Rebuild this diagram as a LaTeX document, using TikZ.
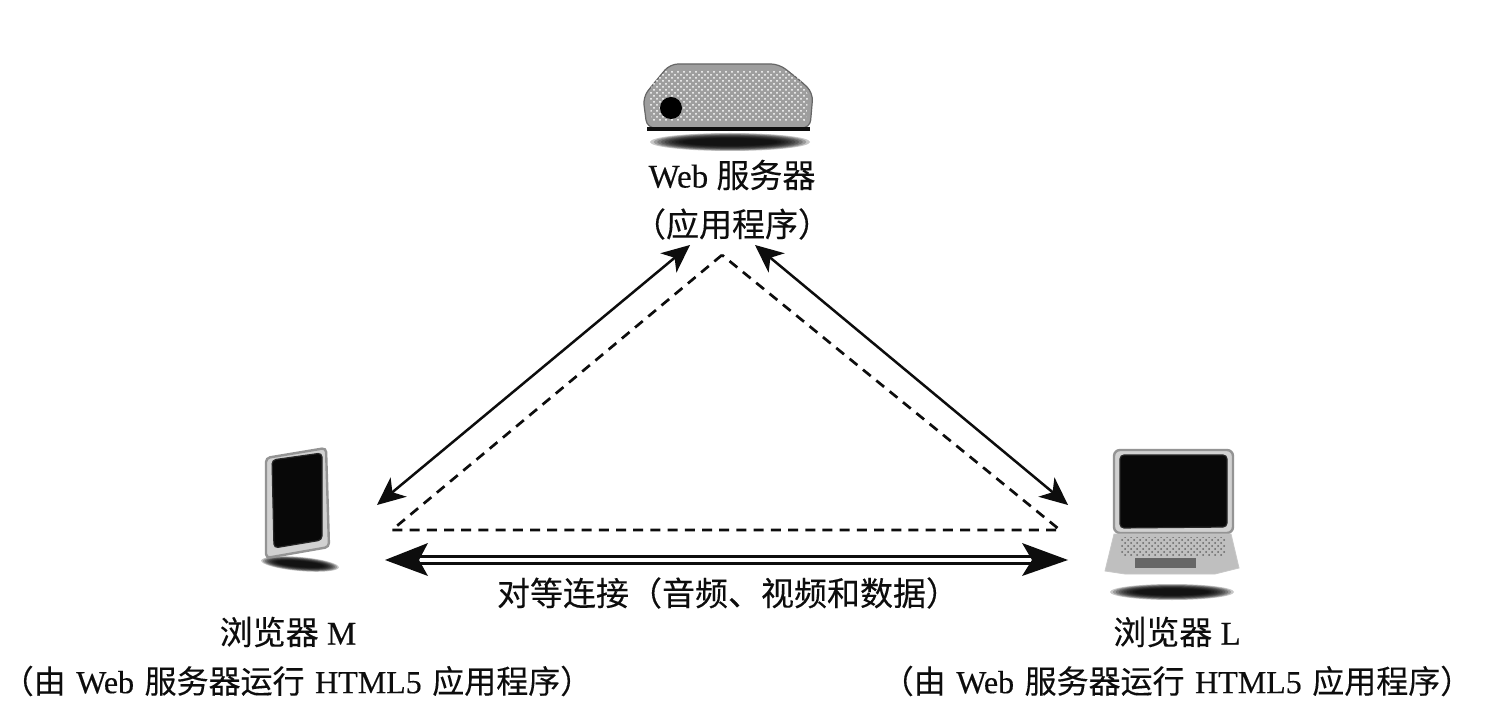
\documentclass[tikz,border=0pt]{standalone}
\usepackage{fontspec}
\setmainfont[FakeBold=0.3]{Liberation Serif}
\newfontfamily\cjk[FakeBold=0.2]{Noto Sans CJK SC}
\usetikzlibrary{arrows.meta,patterns}
\newcommand{\zh}[1]{{\cjk #1}}
\newcommand{\gapsp}{\hspace{1.25pt}}
\definecolor{ink}{gray}{0.05}
\newcommand{\softblob}[4]{% cx, cy, rx, ry
  \foreach \k in {10,...,1}{
    \fill[black,opacity=0.22] (#1,#2) ellipse [x radius={#3*(0.55+0.045*\k)},y radius={#4*(0.35+0.065*\k)}];
  }}
\tikzset{
  lbl/.style={font=\fontsize{16.5}{18}\selectfont,text=ink,inner sep=0pt,anchor=center},
  lblsmall/.style={lbl,font=\fontsize{16}{18}\selectfont},
  solidlink/.style={draw=ink,line width=1.25pt,{Stealth[length=14pt,width=12.5pt,inset=4pt]}-{Stealth[length=14pt,width=12.5pt,inset=4pt]}},
  dashlink/.style={draw=ink,line width=1.35pt,dash pattern=on 5pt off 3.6pt},
  p2plink/.style={draw=ink,line width=1.2pt,double=white,double distance=2.2pt,-,shorten <=12pt,shorten >=12pt},
  p2ptip/.style={ink,fill=ink},
  casegray/.style={fill=black!38,draw=black!60,line width=.6pt},
  screenblack/.style={fill=black!97,draw=black!85,line width=.6pt},
  rim/.style={fill=black!18,draw=black!42,line width=1.2pt},
}
\begin{document}
\begin{tikzpicture}[x=0.5pt,y=-0.5pt]
\useasboundingbox (0,0) rectangle (1486,726);
\fill[white] (0,0) rectangle (1486,726);

% server
\softblob{730}{142}{80}{9}
\draw[casegray,rounded corners=4pt] (670,64)--(779,64)--(802,82)--(813,93)--(810,128)--(647,128)--(643,97)--(655,82)--cycle;
\fill[pattern=crosshatch dots,pattern color=white] (655,70) -- (795,70) -- (808,95) -- (806,122) -- (652,122) -- (649,98) -- cycle;
\draw[ink,line width=1.6pt] (647,129)--(810,129);
\fill[black] (671,108) circle [radius=11];

% monitor M
\begin{scope}[rotate around={-5:(300,564)}]
\softblob{300}{564}{39}{7}
\end{scope}
\draw[rim,rounded corners=2pt] (266,458)--(326,448)--(329,547)--(266,558)--cycle;
\draw[screenblack,rounded corners=2pt] (272,460)--(322,453)--(322,540)--(274,548)--cycle;

% laptop L
\softblob{1172}{592}{62}{8}
\draw[rim,rounded corners=3pt] (1114,450)--(1233,450)--(1233,533)--(1114,533)--cycle;
\draw[screenblack,rounded corners=2pt] (1120,455)--(1227,455)--(1227,527)--(1120,528)--cycle;
\draw[fill=black!25,draw=black!22] (1114,534)--(1231,534)--(1239,568)--(1215,574)--(1125,574)--(1105,571)--cycle;
\fill[black!60] (1135,558) rectangle (1196,568);
\fill[pattern=crosshatch dots,pattern color=black!60] (1120,537) rectangle (1225,555);

% labels
\node[lbl] (serverA) at (732,175) {Web \zh{服务器}};
\node[lbl] (serverB) at (732,224) {\zh{（应用程序）}};
\node[lbl] (mA) at (288,632) {\zh{浏览器} M};
\node[lblsmall] (mB) at (297,681) {\zh{（由}\gapsp{} Web\gapsp{} \zh{服务器运行}\gapsp{} HTML5\gapsp{} \zh{应用程序）}};
\node[lbl] (lA) at (1177,632) {\zh{浏览器} L};
\node[lblsmall] (lB) at (1177,681) {\zh{（由}\gapsp{} Web\gapsp{} \zh{服务器运行}\gapsp{} HTML5\gapsp{} \zh{应用程序）}};
\node[lbl] (p2p) at (728,593) {\zh{对等连接（音频、视频和数据）}};

% connectors
\coordinate (sL) at (690,245);
\coordinate (sR) at (755,245);
\coordinate (mS) at (377,505);
\coordinate (lS) at (1068,505);
\coordinate (dT) at (722,255);
\coordinate (dL) at (392,530);
\coordinate (dR) at (1060,530);
\coordinate (pL) at (385,560);
\coordinate (pR) at (1068,560);
\draw[solidlink] (sL) -- (mS);
\draw[solidlink] (sR) -- (lS);
\draw[dashlink] (dT) -- (dL) -- (dR) -- cycle;
\draw[p2plink] (pL) -- (pR);
\fill[p2ptip] (pL) -- (428,543) -- (419,560) -- (428,576) -- cycle;
\fill[p2ptip] (pR) -- (1022,543) -- (1032,560) -- (1022,576) -- cycle;
\end{tikzpicture}
\end{document}
